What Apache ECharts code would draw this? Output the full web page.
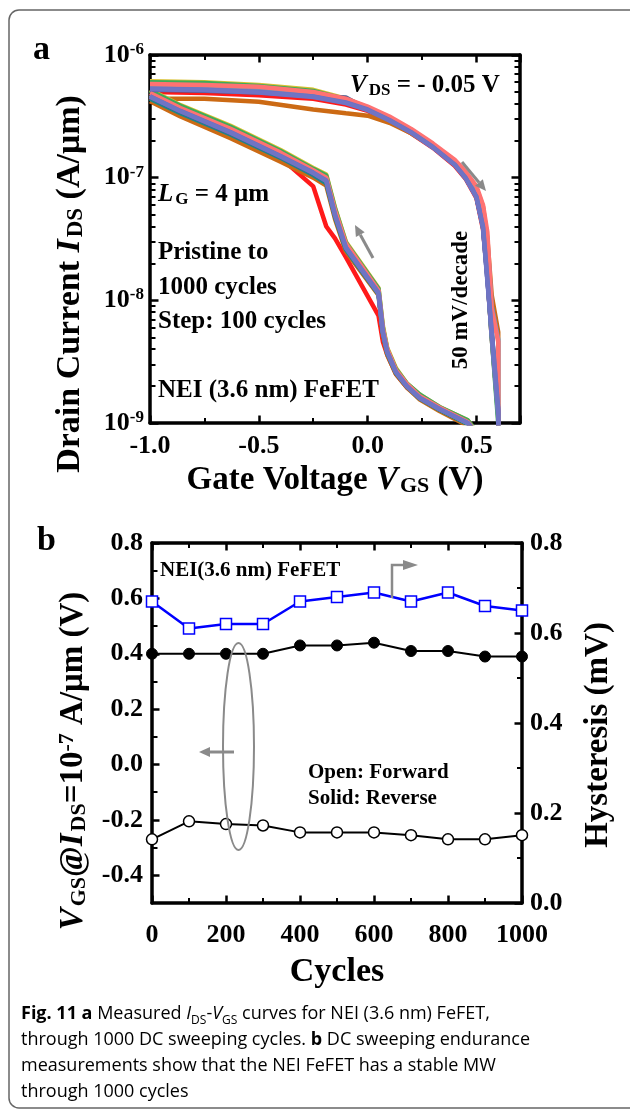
<!DOCTYPE html>
<html>
<head>
<meta charset="utf-8">
<title>NEI FeFET endurance</title>
<script src="https://cdn.jsdelivr.net/npm/echarts@6/dist/echarts.min.js"></script>
<style>
  html, body { margin: 0; padding: 0; background: #fff; }
  #chart { width: 630px; height: 1111px; }
</style>
</head>
<body>
<div id="chart"></div>
<script>
// ---------- panel a : I_DS - V_GS loops (pristine .. 1000 cycles) ----------
// reverse sweep -1.0 -> 0.6 V (upper branch), forward sweep 0.6 -> -1.0 V (lower branch)
const vgsRev = [-1.0, -0.75, -0.5, -0.25, -0.1, 0.0, 0.1, 0.2, 0.3, 0.4, 0.45, 0.5, 0.53, 0.55, 0.57, 0.6];
const vgsFwd = [0.6, 0.46, 0.33, 0.24, 0.18, 0.13, 0.09, 0.07, 0.05, -0.1, -0.15, -0.19, -0.25, -0.4, -0.63, -0.86, -1.0];

const cycleNames = ['Pristine', '100', '200', '300', '400', '500', '600', '700', '800', '900', '1000'];

const rev0 = [5.0e-7, 4.9e-7, 4.7e-7, 4.4e-7, 3.95e-7, 3.5e-7, 2.9e-7, 2.3e-7, 1.75e-7, 1.25e-7, 9.8e-8, 6.8e-8, 3.8e-8, 1.6e-8, 5.0e-9, 1.2e-9];
const fwd0 = [5e-10, 1.0e-9, 1.3e-9, 1.6e-9, 1.95e-9, 2.5e-9, 3.6e-9, 4.6e-9, 7.5e-9, 2.25e-8, 3.2e-8, 4.0e-8, 8.5e-8, 1.45e-7, 2.3e-7, 3.45e-7, 4.5e-7];
const rev1 = [4.4e-7, 4.4e-7, 4.15e-7, 3.6e-7, 3.35e-7, 3.2e-7, 2.8e-7, 2.3e-7, 1.78e-7, 1.32e-7, 1.06e-7, 8.2e-8, 5.8e-8, 3.2e-8, 1.1e-8, 5.5e-9];
const fwd1 = [5e-10, 9.5e-10, 1.25e-9, 1.55e-9, 1.95e-9, 2.5e-9, 3.6e-9, 5.2e-9, 1.1e-8, 2.5e-8, 4.6e-8, 8.6e-8, 1.0e-7, 1.35e-7, 2.1e-7, 3.15e-7, 4.2e-7];
const rev2 = [6.1e-7, 6.0e-7, 5.7e-7, 5.2e-7, 4.4e-7, 3.75e-7, 3.05e-7, 2.4e-7, 1.8e-7, 1.3e-7, 1.02e-7, 7.2e-8, 4.2e-8, 1.8e-8, 5.5e-9, 1.1e-9];
const fwd2 = [5e-10, 1.05e-9, 1.35e-9, 1.7e-9, 2.1e-9, 2.8e-9, 4.1e-9, 6.2e-9, 1.26e-8, 3.0e-8, 5.7e-8, 1.06e-7, 1.2e-7, 1.68e-7, 2.65e-7, 3.9e-7, 5.2e-7];
const rev3 = [6.0e-7, 5.9e-7, 5.6e-7, 5.1e-7, 4.35e-7, 3.7e-7, 3.0e-7, 2.4e-7, 1.8e-7, 1.3e-7, 1.01e-7, 7.1e-8, 4.1e-8, 1.7e-8, 5.0e-9, 1.0e-9];
const fwd3 = [5e-10, 1.05e-9, 1.35e-9, 1.7e-9, 2.1e-9, 2.75e-9, 4.0e-9, 6.0e-9, 1.24e-8, 2.95e-8, 5.6e-8, 1.04e-7, 1.18e-7, 1.65e-7, 2.6e-7, 3.85e-7, 5.1e-7];
const rev4 = [5.6e-7, 5.5e-7, 5.3e-7, 4.8e-7, 4.2e-7, 3.65e-7, 3.0e-7, 2.4e-7, 1.8e-7, 1.3e-7, 1.0e-7, 7.0e-8, 4.0e-8, 1.6e-8, 5.2e-9, 1.15e-9];
const fwd4 = [5e-10, 9.8e-10, 1.28e-9, 1.58e-9, 1.98e-9, 2.55e-9, 3.7e-9, 5.4e-9, 1.12e-8, 2.6e-8, 4.8e-8, 9.0e-8, 1.05e-7, 1.45e-7, 2.25e-7, 3.35e-7, 4.4e-7];
const rev5 = [5.2e-7, 5.1e-7, 4.95e-7, 4.6e-7, 4.5e-7, 3.6e-7, 2.95e-7, 2.35e-7, 1.78e-7, 1.28e-7, 1.0e-7, 7.0e-8, 4.0e-8, 1.5e-8, 5.5e-9, 1.25e-9];
const fwd5 = [5e-10, 1.0e-9, 1.3e-9, 1.6e-9, 2.0e-9, 2.6e-9, 3.8e-9, 5.5e-9, 1.15e-8, 2.7e-8, 5.0e-8, 9.4e-8, 1.08e-7, 1.48e-7, 2.3e-7, 3.45e-7, 4.55e-7];
const rev6 = [5.5e-7, 5.4e-7, 5.2e-7, 4.7e-7, 4.2e-7, 3.7e-7, 3.05e-7, 2.45e-7, 1.85e-7, 1.35e-7, 1.08e-7, 8.0e-8, 5.5e-8, 3.0e-8, 9.0e-9, 4.8e-9];
const fwd6 = [5e-10, 1.0e-9, 1.32e-9, 1.62e-9, 2.05e-9, 2.65e-9, 3.9e-9, 5.7e-9, 1.18e-8, 2.8e-8, 5.2e-8, 9.8e-8, 1.13e-7, 1.55e-7, 2.42e-7, 3.6e-7, 4.75e-7];
const rev7 = [5.4e-7, 5.3e-7, 5.1e-7, 4.65e-7, 4.15e-7, 3.62e-7, 2.98e-7, 2.38e-7, 1.8e-7, 1.3e-7, 1.01e-7, 7.1e-8, 4.1e-8, 1.6e-8, 5.0e-9, 1.1e-9];
const fwd7 = [5e-10, 1.0e-9, 1.3e-9, 1.6e-9, 2.0e-9, 2.6e-9, 3.8e-9, 5.6e-9, 1.16e-8, 2.75e-8, 5.1e-8, 9.6e-8, 1.1e-7, 1.52e-7, 2.38e-7, 3.55e-7, 4.7e-7];
const rev8 = [5.8e-7, 5.7e-7, 5.5e-7, 5.0e-7, 4.4e-7, 3.8e-7, 3.15e-7, 2.5e-7, 1.9e-7, 1.4e-7, 1.12e-7, 8.5e-8, 6.0e-8, 3.6e-8, 8.5e-9, 4.6e-9];
const fwd8 = [5e-10, 1.02e-9, 1.34e-9, 1.65e-9, 2.08e-9, 2.7e-9, 4.0e-9, 5.9e-9, 1.2e-8, 2.9e-8, 5.4e-8, 1.0e-7, 1.15e-7, 1.6e-7, 2.5e-7, 3.7e-7, 4.9e-7];
const rev9 = [5.3e-7, 5.2e-7, 5.0e-7, 4.6e-7, 4.1e-7, 3.6e-7, 2.95e-7, 2.35e-7, 1.78e-7, 1.28e-7, 1.0e-7, 7.0e-8, 4.0e-8, 1.5e-8, 5.6e-9, 1.3e-9];
const fwd9 = [5e-10, 1.0e-9, 1.3e-9, 1.6e-9, 2.0e-9, 2.6e-9, 3.8e-9, 5.5e-9, 1.15e-8, 2.7e-8, 5.0e-8, 9.5e-8, 1.1e-7, 1.5e-7, 2.35e-7, 3.5e-7, 4.6e-7];
const rev10 = [5.25e-7, 5.15e-7, 4.95e-7, 4.55e-7, 4.05e-7, 3.55e-7, 2.92e-7, 2.33e-7, 1.76e-7, 1.27e-7, 9.9e-8, 6.9e-8, 3.9e-8, 1.45e-8, 5.4e-9, 1.25e-9];
const fwd10 = [5e-10, 1.0e-9, 1.3e-9, 1.6e-9, 2.0e-9, 2.6e-9, 3.8e-9, 5.5e-9, 1.14e-8, 2.68e-8, 4.95e-8, 9.4e-8, 1.09e-7, 1.49e-7, 2.33e-7, 3.48e-7, 4.58e-7];

const loopColors = ['#ff1a1a', '#cc6a14', '#d8c030', '#3cab5a', '#17898c', '#4f5a8e',
                    '#5b97d0', '#7a8fb0', '#ff7272', '#6b70c2', '#6f74c4'];

// log axis ticks
const logDecades = [1e-9, 1e-8, 1e-7, 1e-6];
const logMinorSteps = [2, 3, 4, 5, 6, 7, 8, 9];

// ---------- panel b : V_GS at I_DS = 1e-7 A/um vs cycles ----------
const cycles = [0, 100, 200, 300, 400, 500, 600, 700, 800, 900, 1000];
const vgsReverse = [0.40, 0.40, 0.40, 0.40, 0.43, 0.43, 0.44, 0.41, 0.41, 0.39, 0.39];
const vgsForward = [-0.27, -0.205, -0.215, -0.22, -0.245, -0.245, -0.245, -0.255, -0.27, -0.27, -0.255];
const hysteresis = [0.67, 0.61, 0.62, 0.62, 0.67, 0.68, 0.69, 0.67, 0.69, 0.66, 0.65];
const leftTicksB = [-0.4, -0.2, 0.0, 0.2, 0.4, 0.6, 0.8];
const leftMinorB = [-0.3, -0.1, 0.1, 0.3, 0.5, 0.7];

const SERIF = 'Liberation Serif';
const chart = echarts.init(document.getElementById('chart'));

const revSets = [rev0, rev1, rev2, rev3, rev4, rev5, rev6, rev7, rev8, rev9, rev10];
const fwdSets = [fwd0, fwd1, fwd2, fwd3, fwd4, fwd5, fwd6, fwd7, fwd8, fwd9, fwd10];

const minorLog = [];
logDecades.slice(0, -1).forEach(d => logMinorSteps.forEach(m => minorLog.push(d * m)));

function txt(size, extra) {
  return Object.assign({ fontFamily: SERIF, fontWeight: 'bold', fontSize: size, color: '#000' }, extra || {});
}
function richSet(size, subSize) {
  return {
    n: txt(size, { lineHeight: size + 1 }),
    i: txt(size, { fontStyle: 'italic', lineHeight: size + 1 }),
    s: txt(subSize, { lineHeight: 10, verticalAlign: 'bottom', padding: [0, 0, 0, 2] }),
    p: txt(subSize, { lineHeight: 16, verticalAlign: 'top' })
  };
}
const frame = { show: true, onZero: false, lineStyle: { color: '#000', width: 3.5 } };
const hidden = { show: false, onZero: false };
const majTick = { show: true, inside: true, length: 7.5, lineStyle: { color: '#000', width: 2.5 } };
const minTick = { show: true, inside: true, length: 5, splitNumber: 2, lineStyle: { color: '#000', width: 2 } };
const minorCustom = vals => ({ show: true, inside: true, length: 5.5, customValues: vals, lineStyle: { color: '#000', width: 2 } });
const noLabel = { show: false };
const noSplit = { show: false };

const loopSeries = revSets.map((rev, k) => ({
  name: cycleNames[k],
  type: 'line',
  xAxisIndex: 0, yAxisIndex: 0,
  showSymbol: false, symbol: 'none',
  clip: true, silent: true,
  lineStyle: { color: loopColors[k], width: 4.5 },
  data: vgsRev.map((v, i) => [v, rev[i]]).concat(vgsFwd.map((v, i) => [v, fwdSets[k][i]]))
}));

chart.setOption({
  animation: false,
  grid: [
    { left: 150, top: 55, width: 370, height: 368, containLabel: false, outerBoundsMode: 'none' },
    { left: 152, top: 543, width: 370, height: 360, containLabel: false, outerBoundsMode: 'none' }
  ],
  xAxis: [
    { gridIndex: 0, type: 'value', min: -1, max: 0.7, interval: 0.5, position: 'bottom',
      axisLine: frame, axisTick: majTick, minorTick: minTick, splitLine: noSplit, minorSplitLine: noSplit,
      axisLabel: Object.assign(txt(26), { margin: 10, showMaxLabel: false, formatter: v => v.toFixed(1) }),
      name: 'Gate Voltage {i|V}{s|GS} (V)', nameLocation: 'middle', nameGap: 40,
      nameTextStyle: Object.assign(txt(33), { lineHeight: 34, rich: richSet(33, 22) }) },
    { gridIndex: 0, type: 'value', min: -1, max: 0.7, interval: 0.5, position: 'top',
      axisLine: frame, axisTick: majTick, minorTick: minTick, splitLine: noSplit, axisLabel: noLabel },
    { gridIndex: 1, type: 'value', min: 0, max: 1000, interval: 200, position: 'bottom',
      axisLine: frame, axisTick: majTick, minorTick: minTick, splitLine: noSplit,
      axisLabel: Object.assign(txt(26), { margin: 19, formatter: v => String(v) }),
      name: 'Cycles', nameLocation: 'middle', nameGap: 52,
      nameTextStyle: txt(34) },
    { gridIndex: 1, type: 'value', min: 0, max: 1000, interval: 200, position: 'top',
      axisLine: frame, axisTick: majTick, minorTick: minTick, splitLine: noSplit, axisLabel: noLabel }
  ],
  yAxis: [
    { gridIndex: 0, type: 'log', logBase: 10, min: 1e-9, max: 1e-6, position: 'left',
      axisLine: frame, axisTick: Object.assign({}, majTick, { length: 8.5 }), splitLine: noSplit, minorTick: { show: false },
      axisLabel: { margin: 6, formatter: v => '{b|10}{p|' + Math.round(Math.log10(v)) + '}',
        rich: { b: txt(26, { lineHeight: 28 }), p: txt(17, { lineHeight: 16, verticalAlign: 'top' }) } },
      name: 'Drain Current {i|I}{s|DS} (A/μm)', nameLocation: 'middle', nameRotate: 90, nameGap: 62,
      nameTextStyle: Object.assign(txt(34), { lineHeight: 35, padding: [0, 90, 0, 0], rich: richSet(34, 23) }) },
    { gridIndex: 0, type: 'log', logBase: 10, min: 1e-9, max: 1e-6, position: 'right',
      axisLine: frame, axisTick: Object.assign({}, majTick, { length: 8.5 }), splitLine: noSplit, axisLabel: noLabel },
    { gridIndex: 0, type: 'log', logBase: 10, min: 1e-9, max: 1e-6, position: 'left',
      axisLine: hidden, splitLine: noSplit, axisLabel: noLabel, axisTick: minorCustom(minorLog) },
    { gridIndex: 0, type: 'log', logBase: 10, min: 1e-9, max: 1e-6, position: 'right',
      axisLine: hidden, splitLine: noSplit, axisLabel: noLabel, axisTick: minorCustom(minorLog) },
    { gridIndex: 1, type: 'value', min: -0.5, max: 0.8, position: 'left',
      axisLine: frame, splitLine: noSplit,
      axisTick: Object.assign({}, majTick, { customValues: leftTicksB }),
      axisLabel: Object.assign(txt(26), { margin: 9, customValues: leftTicksB, formatter: v => v.toFixed(1) }),
      name: '{i|V}{s|GS}{n|@}{i|I}{s|DS}{n|=10}{p|-7}{n| A/μm (V)}', nameLocation: 'middle', nameRotate: 90, nameGap: 62,
      nameTextStyle: Object.assign(txt(33), { lineHeight: 34, padding: [0, 76, 0, 0], rich: richSet(33, 22) }) },
    { gridIndex: 1, type: 'value', min: 0, max: 0.8, interval: 0.2, position: 'right',
      axisLine: frame, axisTick: majTick, minorTick: minTick, splitLine: noSplit,
      axisLabel: Object.assign(txt(26), { margin: 8, formatter: v => v.toFixed(1) }),
      name: 'Hysteresis (mV)', nameLocation: 'middle', nameRotate: 90, nameGap: 60,
      nameTextStyle: Object.assign(txt(33), { padding: [0, 24, 0, 0] }) },
    { gridIndex: 1, type: 'value', min: -0.5, max: 0.8, position: 'left',
      axisLine: hidden, splitLine: noSplit, axisLabel: noLabel, axisTick: minorCustom(leftMinorB) }
  ],
  series: loopSeries.concat([
    { name: 'Forward', type: 'line', xAxisIndex: 2, yAxisIndex: 4, clip: false,
      symbol: 'circle', symbolSize: 11,
      itemStyle: { color: '#fff', borderColor: '#000', borderWidth: 1.5 },
      lineStyle: { color: '#000', width: 2 },
      data: cycles.map((c, i) => [c, vgsForward[i]]) },
    { name: 'Reverse', type: 'line', xAxisIndex: 2, yAxisIndex: 4, clip: false,
      symbol: 'circle', symbolSize: 11,
      itemStyle: { color: '#000', borderColor: '#000', borderWidth: 1 },
      lineStyle: { color: '#000', width: 2 },
      data: cycles.map((c, i) => [c, vgsReverse[i]]) },
    { name: 'Hysteresis', type: 'line', xAxisIndex: 2, yAxisIndex: 5, clip: false,
      symbol: 'rect', symbolSize: 11,
      itemStyle: { color: '#fff', borderColor: '#0000ff', borderWidth: 1.5 },
      lineStyle: { color: '#0000ff', width: 2.5 },
      data: cycles.map((c, i) => [c, hysteresis[i]]) }
  ])
});

// ---------- annotations ----------
const GRAY = '#8a8a8a';
function arrow(x0, y0, x1, y1) {
  const a = Math.atan2(y1 - y0, x1 - x0), L = 11, W = 5;
  const bx = x1 - L * Math.cos(a), by = y1 - L * Math.sin(a);
  return [
    { type: 'line', z: 100, shape: { x1: x0, y1: y0, x2: bx, y2: by }, style: { stroke: GRAY, lineWidth: 3 } },
    { type: 'polygon', z: 100, shape: { points: [[x1, y1], [bx - W * Math.sin(a), by + W * Math.cos(a)], [bx + W * Math.sin(a), by - W * Math.cos(a)]] }, style: { fill: GRAY } }
  ];
}
function label(x, y, text, size, rich, extra) {
  return Object.assign({ type: 'text', z: 100, x: x, y: y,
    style: Object.assign({ text: text, align: 'left', verticalAlign: 'middle', rich: rich }, txt(size)) }, extra || {});
}
const richA = richSet(25, 17);

const capBase = { fontFamily: 'Open Sans', fontSize: 18, color: '#333', lineHeight: 26 };
const capRich = {
  n: Object.assign({}, capBase),
  b: Object.assign({}, capBase, { fontWeight: 'bold' }),
  i: Object.assign({}, capBase, { fontStyle: 'italic' }),
  s: Object.assign({}, capBase, { fontSize: 12, lineHeight: 14, verticalAlign: 'bottom' })
};

chart.setOption({
  graphic: [
    { type: 'rect', z: 0, shape: { x: 9, y: 10, width: 640, height: 1098, r: 10 }, style: { fill: 'none', stroke: '#666', lineWidth: 1.5 } },
    label(33, 50, 'a', 34),
    label(37, 541, 'b', 34),
    label(350, 86, '{i|V}{s|DS}{n| = - 0.05 V}', 25, richA),
    label(158, 195, '{i|L}{s|G}{n| = 4 μm}', 25, richA),
    label(158, 253, 'Pristine to', 25),
    label(158, 288, '1000 cycles', 25),
    label(158, 322, 'Step: 100 cycles', 25),
    label(158, 391, 'NEI (3.6 nm) FeFET', 25),
    label(461, 300, '50 mV/decade', 23, null, { rotation: Math.PI / 2, style: Object.assign({ text: '50 mV/decade', align: 'center', verticalAlign: 'middle' }, txt(23)) }),
    label(160, 571, 'NEI(3.6 nm) FeFET', 21),
    label(308, 773, 'Open: Forward', 21),
    label(308, 799, 'Solid: Reverse', 21),
    { type: 'ellipse', z: 100, shape: { cx: 238.5, cy: 746.5, rx: 15.5, ry: 103.5 }, style: { fill: 'none', stroke: GRAY, lineWidth: 2 } },
    { type: 'polyline', z: 100, shape: { points: [[392, 598], [392, 565], [404, 565]] }, style: { stroke: GRAY, lineWidth: 2.5, fill: 'none' } },
    { type: 'polygon', z: 100, shape: { points: [[418, 565], [403, 560], [403, 570]] }, style: { fill: GRAY } },
    {
      type: 'text', z: 100, x: 21, y: 1001,
      style: {
        text: '{b|Fig. 11 a}{n| Measured }{i|I}{s|DS}{n|-}{i|V}{s|GS}{n| curves for NEI (3.6 nm) FeFET,}\n' +
              '{n|through 1000 DC sweeping cycles. }{b|b}{n| DC sweeping endurance}\n' +
              '{n|measurements show that the NEI FeFET has a stable MW}\n' +
              '{n|through 1000 cycles}',
        rich: capRich, align: 'left', verticalAlign: 'top'
      }
    }
  ].concat(arrow(462, 162, 486, 191), arrow(373, 258, 355, 225), arrow(234, 752, 199, 752))
});
</script>
</body>
</html>
